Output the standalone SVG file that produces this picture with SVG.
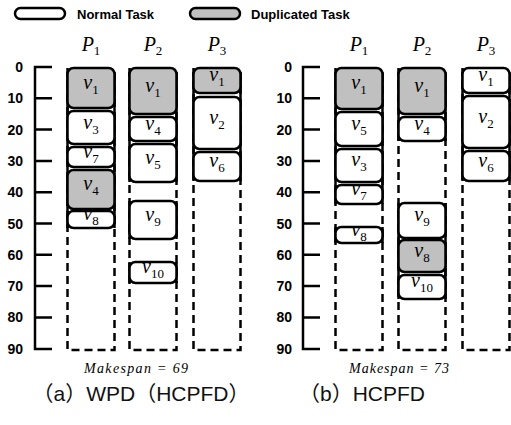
<svg xmlns="http://www.w3.org/2000/svg" width="511" height="425" viewBox="0 0 511 425">
<style>
.task{fill:#fff;stroke:#000;stroke-width:2.5}
.dup{fill:#c0c0c0}
.col{fill:none;stroke:#000;stroke-width:2.5;stroke-dasharray:8 5}
.edge{fill:none;stroke:#000;stroke-width:2.5}
.ax{fill:none;stroke:#000;stroke-width:2.5}
.lbl{font-family:"Liberation Serif","Times New Roman",serif;font-style:italic;font-size:20px;text-anchor:middle;fill:#000}
.sub{font-style:normal;font-size:13px}
.ph{font-family:"Liberation Serif","Times New Roman",serif;font-style:italic;font-size:20px;text-anchor:middle;fill:#000}
.tk{font-family:"Liberation Sans",Arial,sans-serif;font-weight:bold;font-size:14px;text-anchor:end;fill:#000}
.leg{font-family:"Liberation Sans",Arial,sans-serif;font-weight:bold;font-size:13px;fill:#000}
.ms{font-family:"Liberation Serif","Times New Roman",serif;font-style:italic;font-size:14px;text-anchor:middle;fill:#000}
.cap{font-family:"Liberation Sans","Noto Sans CJK SC",sans-serif;font-size:21px;text-anchor:middle;fill:#111}
</style>

<!-- Legend -->
<g id="legend-normal">
<rect class="task" x="15" y="8" width="50" height="11" rx="5.5"/>
<text class="leg" x="77" y="18.5">Normal Task</text>
</g>
<g id="legend-dup">
<rect class="task dup" x="190" y="8" width="50" height="11" rx="5.5"/>
<text class="leg" x="251" y="18.5">Duplicated Task</text>
</g>

<!-- ===== Chart (a) ===== -->
<g id="a-axis">
<path class="ax" d="M52,67 H35 V349 H52 M35,98.3 H52 M35,129.6 H52 M35,160.9 H52 M35,192.2 H52 M35,223.5 H52 M35,254.8 H52 M35,286.1 H52 M35,317.4 H52"/>
<text class="tk" x="23" y="72">0</text>
<text class="tk" x="23" y="103.3">10</text>
<text class="tk" x="23" y="134.6">20</text>
<text class="tk" x="23" y="165.9">30</text>
<text class="tk" x="23" y="197.2">40</text>
<text class="tk" x="23" y="228.5">50</text>
<text class="tk" x="23" y="259.8">60</text>
<text class="tk" x="23" y="291.1">70</text>
<text class="tk" x="23" y="322.4">80</text>
<text class="tk" x="23" y="354">90</text>
</g>

<g id="a-P1">
<text class="ph" x="91" y="51">P<tspan class="sub" dy="4">1</tspan></text>
<path class="col" d="M67.5,68 V350 H114.5 V68"/>
<path class="edge" d="M67.5,72 V228 M114.5,72 V228"/>
</g>
<g id="a-P1-v1"><rect class="task dup" x="67.5" y="68" width="47" height="40" rx="6"/><text class="lbl" x="91" y="89">v<tspan class="sub" dy="5">1</tspan></text></g>
<g id="a-P1-v3"><rect class="task" x="67.5" y="111" width="47" height="33" rx="6"/><text class="lbl" x="91" y="129">v<tspan class="sub" dy="5">3</tspan></text></g>
<g id="a-P1-v7"><rect class="task" x="67.5" y="147" width="47" height="20" rx="6"/><text class="lbl" x="91" y="158">v<tspan class="sub" dy="5">7</tspan></text></g>
<g id="a-P1-v4"><rect class="task dup" x="67.5" y="170" width="47" height="39" rx="6"/><text class="lbl" x="91" y="190">v<tspan class="sub" dy="5">4</tspan></text></g>
<g id="a-P1-v8"><rect class="task" x="67.5" y="211" width="47" height="17" rx="6"/><text class="lbl" x="91" y="220">v<tspan class="sub" dy="5">8</tspan></text></g>

<g id="a-P2">
<text class="ph" x="153" y="51">P<tspan class="sub" dy="4">2</tspan></text>
<path class="col" d="M129.5,68 V350 H176.5 V68"/>
<path class="edge" d="M129.5,72 V182 M176.5,72 V182 M129.5,201 V239 M176.5,201 V239 M129.5,262 V283 M176.5,262 V283"/>
</g>
<g id="a-P2-v1"><rect class="task dup" x="129.5" y="68" width="47" height="46" rx="6"/><text class="lbl" x="153" y="92">v<tspan class="sub" dy="5">1</tspan></text></g>
<g id="a-P2-v4"><rect class="task" x="129.5" y="117" width="47" height="24" rx="6"/><text class="lbl" x="153" y="130">v<tspan class="sub" dy="5">4</tspan></text></g>
<g id="a-P2-v5"><rect class="task" x="129.5" y="144" width="47" height="38" rx="6"/><text class="lbl" x="153" y="164">v<tspan class="sub" dy="5">5</tspan></text></g>
<g id="a-P2-v9"><rect class="task" x="129.5" y="201" width="47" height="38" rx="6"/><text class="lbl" x="153" y="221">v<tspan class="sub" dy="5">9</tspan></text></g>
<g id="a-P2-v10"><rect class="task" x="129.5" y="262" width="47" height="21" rx="6"/><text class="lbl" x="153" y="273">v<tspan class="sub" dy="5">10</tspan></text></g>

<g id="a-P3">
<text class="ph" x="217" y="51">P<tspan class="sub" dy="4">3</tspan></text>
<path class="col" d="M193.5,68 V350 H240.5 V68"/>
<path class="edge" d="M193.5,72 V181 M240.5,72 V181"/>
</g>
<g id="a-P3-v1"><rect class="task dup" x="193.5" y="68" width="47" height="25" rx="6"/><text class="lbl" x="217" y="81">v<tspan class="sub" dy="5">1</tspan></text></g>
<g id="a-P3-v2"><rect class="task" x="193.5" y="97" width="47" height="52" rx="6"/><text class="lbl" x="217" y="124">v<tspan class="sub" dy="5">2</tspan></text></g>
<g id="a-P3-v6"><rect class="task" x="193.5" y="152" width="47" height="29" rx="6"/><text class="lbl" x="217" y="167">v<tspan class="sub" dy="5">6</tspan></text></g>

<text class="ms" x="136" y="373" textLength="104" lengthAdjust="spacing">Makespan = 69</text>
<text class="cap" x="141" y="401">（a）WPD（HCPFD）</text>

<!-- ===== Chart (b) ===== -->
<g id="b-axis">
<path class="ax" d="M320,67 H303 V349 H320 M303,98.3 H320 M303,129.6 H320 M303,160.9 H320 M303,192.2 H320 M303,223.5 H320 M303,254.8 H320 M303,286.1 H320 M303,317.4 H320"/>
<text class="tk" x="292" y="72">0</text>
<text class="tk" x="292" y="103.3">10</text>
<text class="tk" x="292" y="134.6">20</text>
<text class="tk" x="292" y="165.9">30</text>
<text class="tk" x="292" y="197.2">40</text>
<text class="tk" x="292" y="228.5">50</text>
<text class="tk" x="292" y="259.8">60</text>
<text class="tk" x="292" y="291.1">70</text>
<text class="tk" x="292" y="322.4">80</text>
<text class="tk" x="292" y="354">90</text>
</g>

<g id="b-P1">
<text class="ph" x="359" y="51">P<tspan class="sub" dy="4">1</tspan></text>
<path class="col" d="M335.5,68 V350 H382.5 V68"/>
<path class="edge" d="M335.5,72 V204 M382.5,72 V204 M335.5,227 V243 M382.5,227 V243"/>
</g>
<g id="b-P1-v1"><rect class="task dup" x="335.5" y="68" width="47" height="41" rx="6"/><text class="lbl" x="359" y="89">v<tspan class="sub" dy="5">1</tspan></text></g>
<g id="b-P1-v5"><rect class="task" x="335.5" y="112" width="47" height="34" rx="6"/><text class="lbl" x="359" y="130">v<tspan class="sub" dy="5">5</tspan></text></g>
<g id="b-P1-v3"><rect class="task" x="335.5" y="149" width="47" height="33" rx="6"/><text class="lbl" x="359" y="166">v<tspan class="sub" dy="5">3</tspan></text></g>
<g id="b-P1-v7"><rect class="task" x="335.5" y="185" width="47" height="19" rx="6"/><text class="lbl" x="359" y="195">v<tspan class="sub" dy="5">7</tspan></text></g>
<g id="b-P1-v8"><rect class="task" x="335.5" y="227" width="47" height="16" rx="6"/><text class="lbl" x="359" y="236">v<tspan class="sub" dy="5">8</tspan></text></g>

<g id="b-P2">
<text class="ph" x="422" y="51">P<tspan class="sub" dy="4">2</tspan></text>
<path class="col" d="M398.5,68 V350 H445.5 V68"/>
<path class="edge" d="M398.5,72 V141 M445.5,72 V141 M398.5,203 V299 M445.5,203 V299"/>
</g>
<g id="b-P2-v1"><rect class="task dup" x="398.5" y="68" width="47" height="46" rx="6"/><text class="lbl" x="422" y="92">v<tspan class="sub" dy="5">1</tspan></text></g>
<g id="b-P2-v4"><rect class="task" x="398.5" y="117" width="47" height="24" rx="6"/><text class="lbl" x="422" y="130">v<tspan class="sub" dy="5">4</tspan></text></g>
<g id="b-P2-v9"><rect class="task" x="398.5" y="203" width="47" height="35" rx="6"/><text class="lbl" x="422" y="221">v<tspan class="sub" dy="5">9</tspan></text></g>
<g id="b-P2-v8"><rect class="task dup" x="398.5" y="240" width="47" height="32" rx="6"/><text class="lbl" x="422" y="257">v<tspan class="sub" dy="5">8</tspan></text></g>
<g id="b-P2-v10"><rect class="task" x="398.5" y="275" width="47" height="24" rx="6"/><text class="lbl" x="422" y="287">v<tspan class="sub" dy="5">10</tspan></text></g>

<g id="b-P3">
<text class="ph" x="486" y="51">P<tspan class="sub" dy="4">3</tspan></text>
<path class="col" d="M462.5,68 V350 H509.5 V68"/>
<path class="edge" d="M462.5,72 V181 M509.5,72 V181"/>
</g>
<g id="b-P3-v1"><rect class="task" x="462.5" y="68" width="47" height="25" rx="6"/><text class="lbl" x="486" y="81">v<tspan class="sub" dy="5">1</tspan></text></g>
<g id="b-P3-v2"><rect class="task" x="462.5" y="96" width="47" height="52" rx="6"/><text class="lbl" x="486" y="123">v<tspan class="sub" dy="5">2</tspan></text></g>
<g id="b-P3-v6"><rect class="task" x="462.5" y="151" width="47" height="30" rx="6"/><text class="lbl" x="486" y="167">v<tspan class="sub" dy="5">6</tspan></text></g>

<text class="ms" x="399" y="373" textLength="100" lengthAdjust="spacing">Makespan = 73</text>
<text class="cap" x="362" y="401">（b）HCPFD</text>
</svg>
